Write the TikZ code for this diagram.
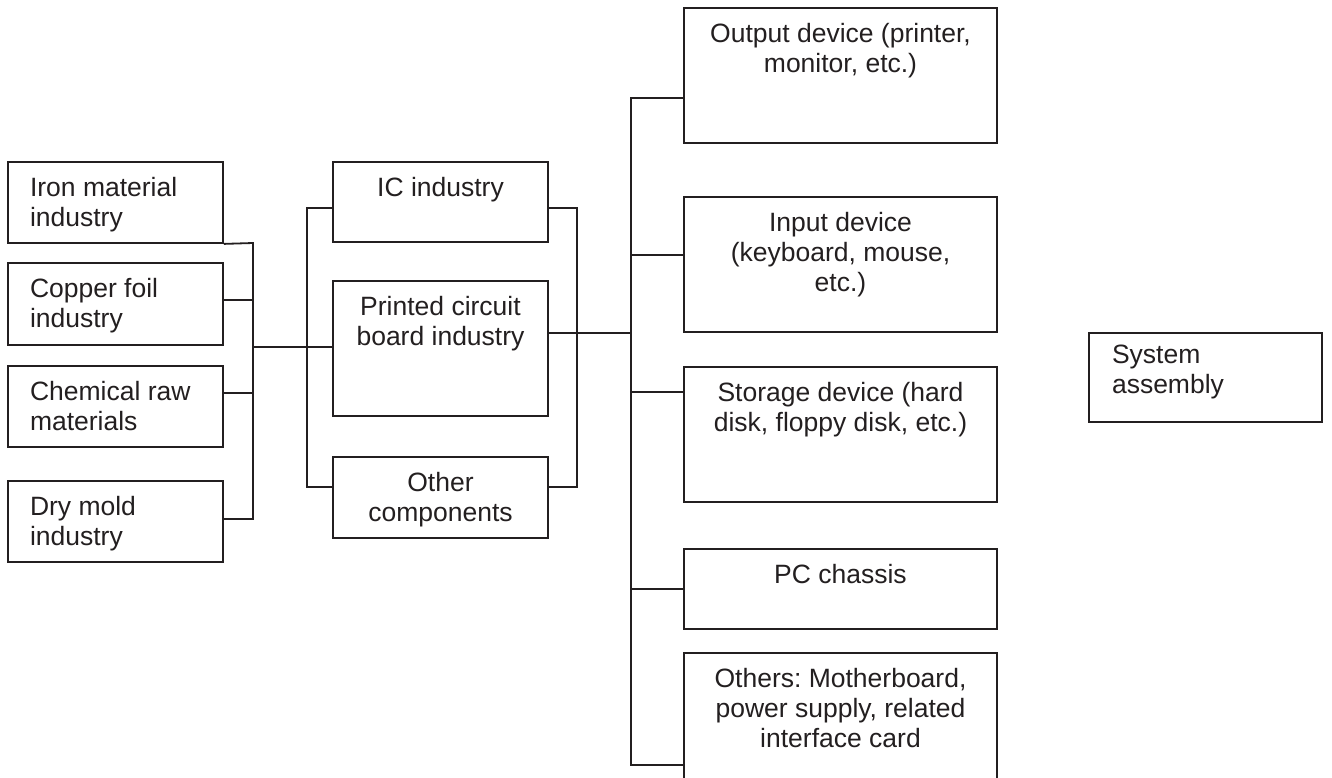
\documentclass[tikz,border=0pt]{standalone}
\usepackage{fontspec}
\setmainfont{Liberation Sans}
\frenchspacing
\definecolor{ink}{HTML}{231F20}

\begin{document}
\begin{tikzpicture}[x=1pt,y=-1pt,line width=1.8pt,draw=ink,
    ctext/.style={anchor=north,yshift=-15pt,align=center,inner sep=0pt,
      text=ink,font=\fontsize{26.5}{30}\selectfont},
    ltext/.style={anchor=north west,xshift=22pt,yshift=-15pt,align=left,
      inner sep=0pt,text=ink,font=\fontsize{26.5}{30}\selectfont}]

      \useasboundingbox (0,0) rectangle (1332,778);

      % supplier boxes
      \begin{scope}[every node/.style={draw,rectangle,inner sep=0pt,minimum width=215pt}]
        \node[minimum height=81pt]  (1) at (115.5,202.5) {};
        \node[minimum height=82pt]  (2) at (115.5,304)   {};
        \node[minimum height=81pt]  (3) at (115.5,406.5) {};
        \node[minimum height=81pt]  (4) at (115.5,521.5) {};
        \node[minimum height=80pt]  (5) at (440.5,202)   {};
        \node[minimum height=135pt] (6) at (440.5,348.5) {};
        \node[minimum height=81pt]  (7) at (440.5,497.5) {};
      \end{scope}

      % device boxes
      \begin{scope}[every node/.style={draw,rectangle,inner sep=0pt,minimum width=313pt}]
        \node[minimum height=135pt] (8)  at (840.5,75.5)  {};
        \node[minimum height=135pt] (9)  at (840.5,264.5) {};
        \node[minimum height=135pt] (10) at (840.5,434.5) {};
        \node[minimum height=80pt]  (11) at (840.5,589)   {};
        \node[minimum height=160pt] (12) at (840.5,733)   {};
      \end{scope}

      \node[draw,rectangle,inner sep=0pt,minimum width=233pt,minimum height=89pt] (13) at (1205.5,377.5) {};

      % texts
      \node[ltext] (1t) at (1.north west) {Iron material\\industry};
      \node[ltext] (2t) at (2.north west) {Copper foil\\industry};
      \node[ltext] (3t) at (3.north west) {Chemical raw\\materials};
      \node[ltext] (4t) at (4.north west) {Dry mold\\industry};
      \node[ctext] (5t) at (5.north) {IC industry};
      \node[ctext] (6t) at (6.north) {Printed circuit\\board industry};
      \node[ctext] (7t) at (7.north) {Other\\components};
      \node[ctext] (8t) at (8.north) {Output device (printer,\\monitor, etc.)};
      \node[ctext] (9t) at (9.north) {Input device\\(keyboard, mouse,\\etc.)};
      \node[ctext] (10t) at (10.north) {Storage device (hard\\disk, floppy disk, etc.)};
      \node[ctext] (11t) at (11.north) {PC chassis};
      \node[ctext] (12t) at (12.north) {Others: Motherboard,\\power supply, related\\interface card};
      \node[ltext,xshift=1pt,yshift=3pt] (13t) at (13.north west) {System\\assembly};

      % bus points
      \coordinate (j1) at (253,243);
      \coordinate (j2) at (253,300);
      \coordinate (j3) at (253,393);
      \coordinate (j4) at (253,519);
      \coordinate (j5) at (253,347);
      \coordinate (k1) at (307,208);
      \coordinate (k2) at (307,487);
      \coordinate (m1) at (577,208);
      \coordinate (m2) at (577,487);
      \coordinate (r0) at (631,333);
      \coordinate (r1) at (631,98);
      \coordinate (r2) at (631,255);
      \coordinate (r3) at (631,392);
      \coordinate (r4) at (631,589);
      \coordinate (r5) at (631,765);

      \draw (1.south east) -- (j1) -- (j4) -- (j4 -| 4.east);
      \draw (j2 -| 2.east) -- (j2);
      \draw (j3 -| 3.east) -- (j3);
      \draw (j5) -- (j5 -| 6.west);
      \draw (k1 -| 5.west) -- (k1) -- (k2) -- (k2 -| 7.west);
      \draw (m1 -| 5.east) -- (m1) -- (m2) -- (m2 -| 7.east);
      \draw (r0 -| 6.east) -- (r0);
      \draw (r1 -| 8.west) -- (r1) -- (r5) -- (r5 -| 12.west);
      \draw (r2) -- (r2 -| 9.west);
      \draw (r3) -- (r3 -| 10.west);
      \draw (r4) -- (r4 -| 11.west);

    \end{tikzpicture}
\end{document}
